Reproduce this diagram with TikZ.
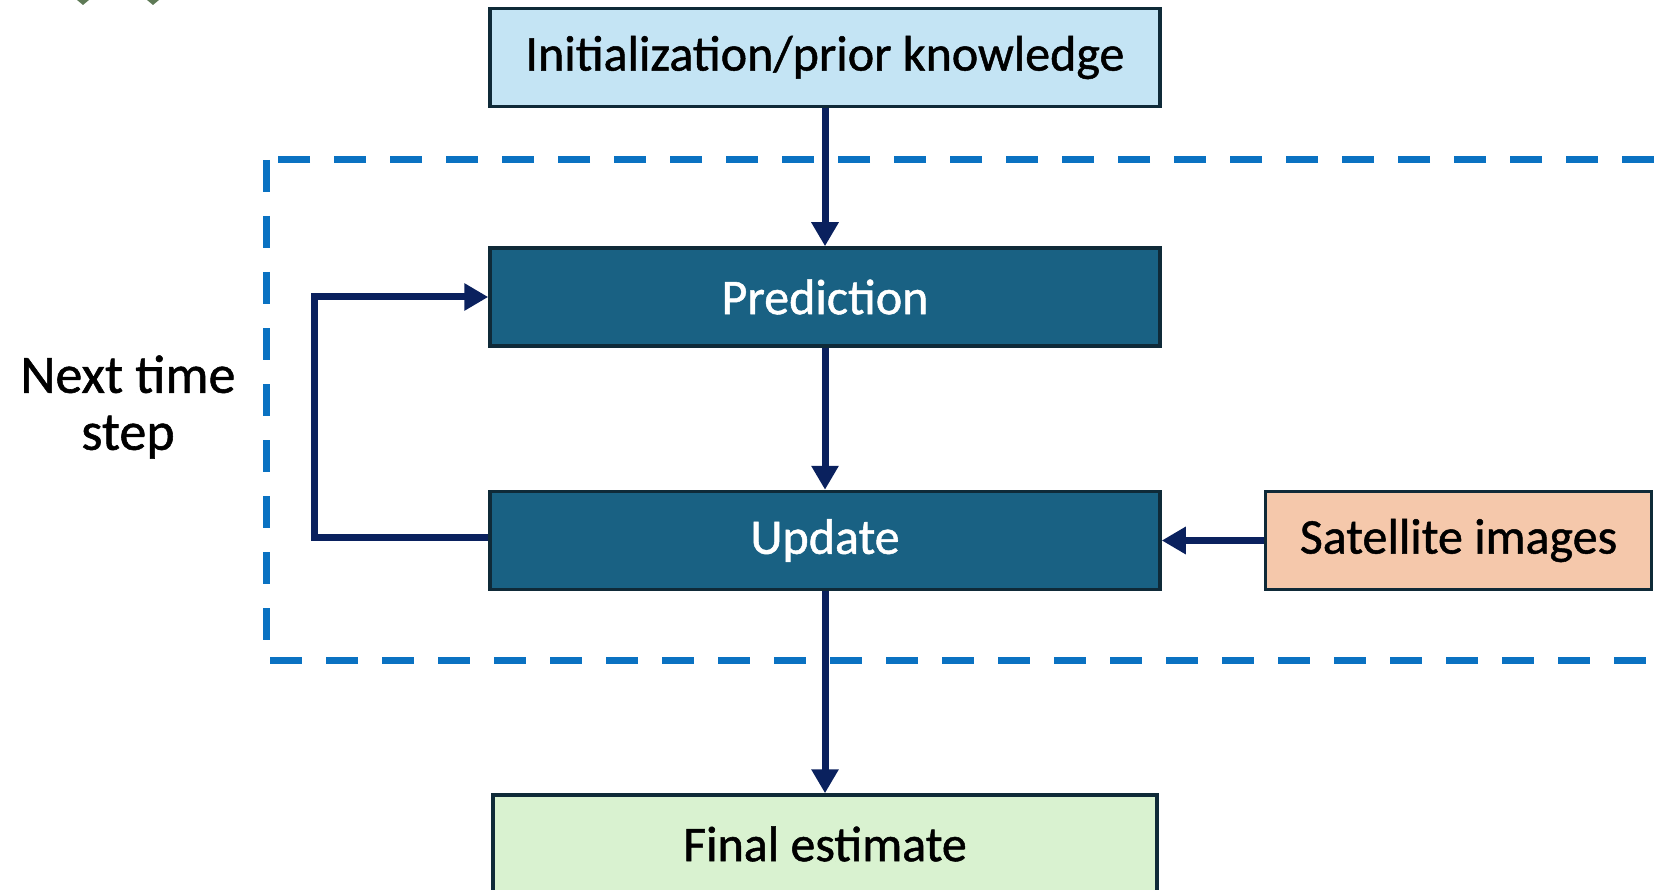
\documentclass[tikz,border=0pt]{standalone}
\usepackage{fontspec}
\setmainfont{Carlito}[BoldFont=Carlito, BoldFeatures={FakeBold=1.0}]
\usepackage{tikz}
\usetikzlibrary{arrows.meta, positioning}
\definecolor{initblue}{HTML}{C4E4F4}
\definecolor{darkteal}{HTML}{196183}
\definecolor{boxedge}{HTML}{0F2A38}
\definecolor{satpeach}{HTML}{F5C8AB}
\definecolor{finalgreen}{HTML}{D9F2D0}
\definecolor{navy}{HTML}{0A215E}
\definecolor{loopblue}{HTML}{0A72C2}
\definecolor{leafgreen}{HTML}{5E7A56}
\tikzstyle{lightbox} = [rectangle, minimum width=670pt, minimum height=98pt, text centered, draw=boxedge, line width=3.5pt, font=\fontsize{50}{57}\selectfont\bfseries]
\tikzstyle{darkbox} = [lightbox, fill=darkteal, text=white]
\tikzstyle{satbox} = [lightbox, minimum width=386pt, fill=satpeach]
\tikzstyle{arrow} = [line width=7pt, draw=navy, -{Triangle[length=24pt, width=26pt]}]
\tikzstyle{loopdash} = [line width=7pt, draw=loopblue, dash pattern=on 32pt off 24pt]

\begin{document}
\begin{tikzpicture}[x=1pt, y=-1pt]
\useasboundingbox (0,0) rectangle (1669,890);

% Leftover marks at the top edge
\fill[leafgreen] (77,0) -- (89,0) -- (83,5) -- cycle;
\fill[leafgreen] (147,0) -- (159,0) -- (153,5) -- cycle;

% Time step loop frame
\draw[loopdash] (266,160) rectangle (1720,660);
\node (nexttime) [align=center, font=\fontsize{54}{57}\selectfont\bfseries] at (128,407) {Next time\\step};

% Filter stages
\node (init) [lightbox, fill=initblue] at (825,57.5) {Initialization/prior knowledge};
\node (pred) [darkbox, below=138pt of init] {Prediction};
\node (upd) [darkbox, below=142pt of pred] {Update};
\node (final) [lightbox, minimum width=664pt, fill=finalgreen, below=202pt of upd] {Final estimate};

% Observations
\node (sat) [satbox, right=102pt of upd] {Satellite images};

% Arrows
\draw [arrow] (init) -- (pred);
\draw [arrow] (pred) -- (upd);
\draw [arrow] (upd) -- (final);
\draw [arrow] (sat) -- (upd);
\draw [arrow] ([yshift=3pt]upd.west) -- ++(-174,0) |- (pred.west);

\end{tikzpicture}
\end{document}
